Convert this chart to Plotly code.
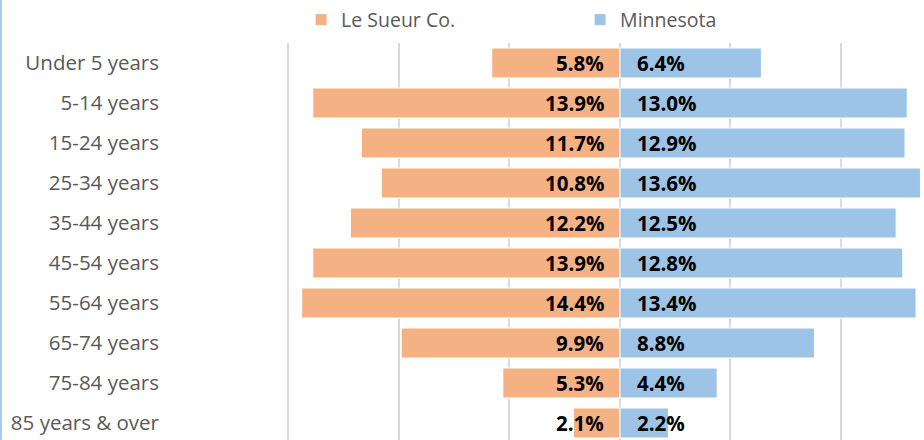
import plotly.graph_objects as go

categories = ["Under 5 years", "5-14 years", "15-24 years", "25-34 years", "35-44 years",
              "45-54 years", "55-64 years", "65-74 years", "75-84 years", "85 years & over"]
le_sueur = [5.8, 13.9, 11.7, 10.8, 12.2, 13.9, 14.4, 9.9, 5.3, 2.1]
minnesota = [6.4, 13.0, 12.9, 13.6, 12.5, 12.8, 13.4, 8.8, 4.4, 2.2]

ORANGE = "#F4B183"
BLUE = "#9DC3E6"

fig = go.Figure()
fig.add_trace(go.Bar(
    y=categories, x=[-v for v in le_sueur], orientation="h", name="Le Sueur Co.",
    marker=dict(color=ORANGE, line=dict(color="white", width=1)), width=0.75,
    hoverinfo="skip"))
fig.add_trace(go.Bar(
    y=categories, x=minnesota, orientation="h", name="Minnesota",
    marker=dict(color=BLUE, line=dict(color="white", width=1)), width=0.75,
    hoverinfo="skip"))

annotations = []
for c, v in zip(categories, le_sueur):
    annotations.append(dict(x=0, y=c, xref="x", yref="y", text=f"<b>{v:.1f}%</b>",
                            showarrow=False, xanchor="right", xshift=-14,
                            font=dict(family="Open Sans", size=20.5, color="black")))
for c, v in zip(categories, minnesota):
    annotations.append(dict(x=0, y=c, xref="x", yref="y", text=f"<b>{v:.1f}%</b>",
                            showarrow=False, xanchor="left", xshift=15,
                            font=dict(family="Open Sans", size=20.5, color="black")))

fig.update_layout(
    width=924, height=440,
    margin=dict(l=178, r=0, t=43, b=0, autoexpand=False),
    paper_bgcolor="white", plot_bgcolor="white",
    barmode="relative",
    font=dict(family="Open Sans", color="#595959"),
    showlegend=True,
    legend=dict(orientation="h", x=0.165, xanchor="left", y=1.058, yanchor="middle",
                font=dict(size=19.5, color="#595959"), traceorder="normal",
                entrywidth=234, entrywidthmode="pixels", itemclick=False,
                itemwidth=30),
    annotations=annotations,
    shapes=[dict(type="line", xref="paper", yref="paper", x0=-0.2373, x1=-0.2373,
                 y0=0, y1=1.11, line=dict(color="#A9CAE9", width=2))],
)
fig.update_xaxes(range=[-20, 13.76], showticklabels=False, dtick=5, tick0=0,
                 showgrid=True, gridcolor="#D9D9D9", gridwidth=1.5,
                 zeroline=False, showline=False, fixedrange=True)
fig.update_yaxes(categoryorder="array", categoryarray=categories,
                 range=[9.425, -0.5], showgrid=False, zeroline=False, showline=False,
                 ticks="", ticklabelstandoff=18,
                 tickfont=dict(size=20.5, color="#595959"), fixedrange=True)

fig.write_html("out.html", config={"displayModeBar": False},
               post_script="document.body.style.margin='0';document.body.style.overflow='hidden';")
